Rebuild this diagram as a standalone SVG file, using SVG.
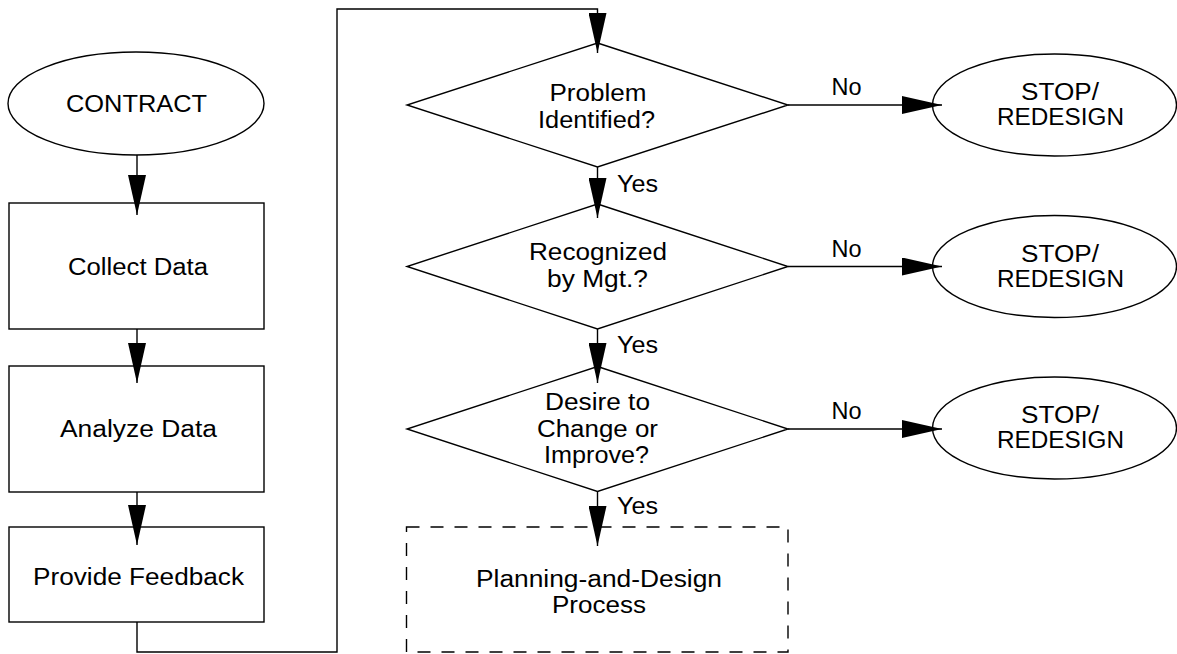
<svg xmlns="http://www.w3.org/2000/svg" width="1177" height="654" viewBox="0 0 1177 654">
<style>
.shape{fill:#fff;stroke:#000;stroke-width:1.4}
.dash{fill:#fff;stroke:#000;stroke-width:1.4;stroke-dasharray:13 11}
.conn{fill:none;stroke:#000;stroke-width:1.4}
text{font-family:"Liberation Sans",Arial,Helvetica,sans-serif;font-size:23px;fill:#000}
.c{text-anchor:middle}
</style>
<defs>
<marker id="ah" markerUnits="userSpaceOnUse" markerWidth="40" markerHeight="18" refX="40" refY="9" orient="auto">
<path d="M0,0 L40,9 L0,18 Z" fill="#000"/>
</marker>
</defs>
<g id="contract">
<ellipse class="shape" cx="136" cy="103.5" rx="128" ry="51.5"/>
<text class="c" x="136.5" y="112" textLength="141" lengthAdjust="spacingAndGlyphs">CONTRACT</text>
</g>
<g id="collect">
<rect class="shape" x="9" y="203" width="255" height="126"/>
<text class="c" x="138" y="275" textLength="140" lengthAdjust="spacingAndGlyphs">Collect Data</text>
</g>
<g id="analyze">
<rect class="shape" x="9" y="366" width="255" height="126"/>
<text class="c" x="138.5" y="437" textLength="157" lengthAdjust="spacingAndGlyphs">Analyze Data</text>
</g>
<g id="feedback">
<rect class="shape" x="9" y="527" width="255" height="95"/>
<text class="c" x="138.5" y="585" textLength="211" lengthAdjust="spacingAndGlyphs">Provide Feedback</text>
</g>
<g id="d1">
<polygon class="shape" points="597.5,43 788,105 597.5,167 407,105"/>
<text class="c" x="598" y="101" textLength="97" lengthAdjust="spacingAndGlyphs">Problem</text>
<text class="c" x="596.5" y="128" textLength="117" lengthAdjust="spacingAndGlyphs">Identified?</text>
</g>
<g id="d2">
<polygon class="shape" points="597.5,204 788,266.5 597.5,329 407,266.5"/>
<text class="c" x="598" y="260" textLength="138" lengthAdjust="spacingAndGlyphs">Recognized</text>
<text class="c" x="597.5" y="287" textLength="101" lengthAdjust="spacingAndGlyphs">by Mgt.?</text>
</g>
<g id="d3">
<polygon class="shape" points="597.5,366.5 788,429 597.5,491.5 407,429"/>
<text class="c" x="597.5" y="410" textLength="105" lengthAdjust="spacingAndGlyphs">Desire to</text>
<text class="c" x="597.5" y="437" textLength="121" lengthAdjust="spacingAndGlyphs">Change or</text>
<text class="c" x="596.5" y="463" textLength="105" lengthAdjust="spacingAndGlyphs">Improve?</text>
</g>
<g id="planning">
<rect class="dash" x="406.5" y="527" width="381.5" height="125"/>
<text class="c" x="599" y="587" textLength="246" lengthAdjust="spacingAndGlyphs">Planning-and-Design</text>
<text class="c" x="599" y="613" textLength="94" lengthAdjust="spacingAndGlyphs">Process</text>
</g>
<g id="stop1">
<ellipse class="shape" cx="1054.5" cy="105" rx="122" ry="51"/>
<text class="c" x="1060" y="100" textLength="78" lengthAdjust="spacingAndGlyphs">STOP/</text>
<text class="c" x="1060.5" y="125" textLength="127" lengthAdjust="spacingAndGlyphs">REDESIGN</text>
</g>
<g id="stop2">
<ellipse class="shape" cx="1054.5" cy="266.5" rx="122" ry="51"/>
<text class="c" x="1060" y="261.5" textLength="78" lengthAdjust="spacingAndGlyphs">STOP/</text>
<text class="c" x="1060.5" y="286.5" textLength="127" lengthAdjust="spacingAndGlyphs">REDESIGN</text>
</g>
<g id="stop3">
<ellipse class="shape" cx="1054.5" cy="428" rx="122" ry="51"/>
<text class="c" x="1060" y="423" textLength="78" lengthAdjust="spacingAndGlyphs">STOP/</text>
<text class="c" x="1060.5" y="448" textLength="127" lengthAdjust="spacingAndGlyphs">REDESIGN</text>
</g>
<g id="connectors">
<path class="conn" d="M137,155 V215" marker-end="url(#ah)"/>
<path class="conn" d="M137,329 V383" marker-end="url(#ah)"/>
<path class="conn" d="M137,492 V545" marker-end="url(#ah)"/>
<path class="conn" d="M137,622 V652 H337 V9 H597.5 V53" marker-end="url(#ah)"/>
<path class="conn" d="M597.5,167 V218" marker-end="url(#ah)"/>
<path class="conn" d="M597.5,329 V383" marker-end="url(#ah)"/>
<path class="conn" d="M597.5,491.5 V546" marker-end="url(#ah)"/>
<path class="conn" d="M788,105 H942" marker-end="url(#ah)"/>
<path class="conn" d="M788,266.5 H942" marker-end="url(#ah)"/>
<path class="conn" d="M788,429 H942" marker-end="url(#ah)"/>
<text x="617" y="192" textLength="41" lengthAdjust="spacingAndGlyphs">Yes</text>
<text x="617" y="353" textLength="41" lengthAdjust="spacingAndGlyphs">Yes</text>
<text x="617" y="514" textLength="41" lengthAdjust="spacingAndGlyphs">Yes</text>
<text class="c" x="846.5" y="95" textLength="30" lengthAdjust="spacingAndGlyphs">No</text>
<text class="c" x="846.5" y="257" textLength="30" lengthAdjust="spacingAndGlyphs">No</text>
<text class="c" x="846.5" y="419" textLength="30" lengthAdjust="spacingAndGlyphs">No</text>
</g>
</svg>
